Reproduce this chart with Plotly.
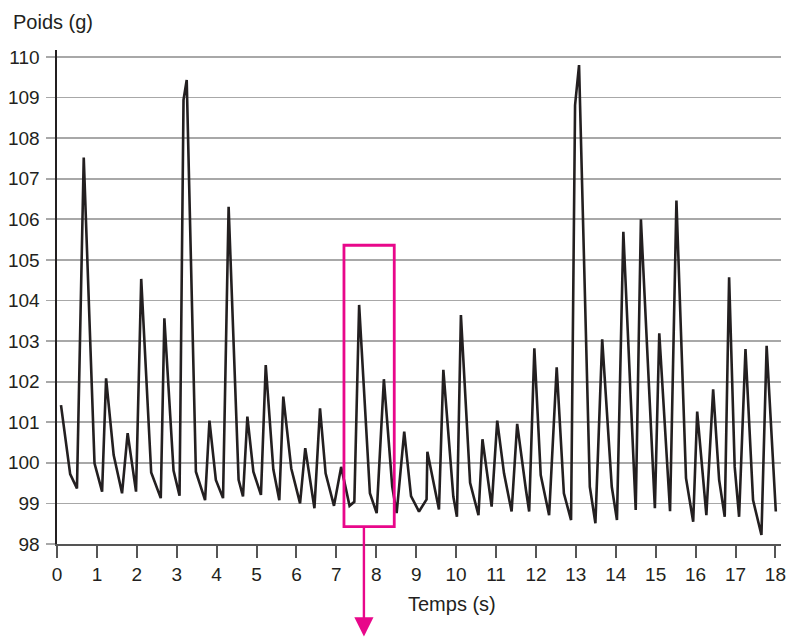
import plotly.graph_objects as go

# Data
temps = [0.10, 0.33, 0.50, 0.67, 0.94, 1.13, 1.23, 1.42, 1.63, 1.77,
         1.98, 2.11, 2.36, 2.60, 2.69, 2.92, 3.07, 3.17, 3.25, 3.48,
         3.71, 3.82, 3.98, 4.16, 4.30, 4.55, 4.66, 4.77, 4.92, 5.11,
         5.23, 5.42, 5.57, 5.67, 5.87, 6.09, 6.22, 6.45, 6.59, 6.73,
         6.94, 7.12, 7.33, 7.45, 7.57, 7.84, 8.01, 8.19, 8.40, 8.51,
         8.70, 8.87, 9.07, 9.26, 9.28, 9.57, 9.68, 9.93, 10.02, 10.12,
         10.35, 10.56, 10.66, 10.89, 11.03, 11.20, 11.39, 11.53, 11.75, 11.83,
         11.96, 12.12, 12.33, 12.52, 12.70, 12.88, 12.98, 13.08, 13.35, 13.49,
         13.66, 13.90, 14.03, 14.19, 14.50, 14.63, 14.98, 15.09, 15.36, 15.52,
         15.76, 15.94, 16.04, 16.27, 16.44, 16.59, 16.73, 16.84, 16.98, 17.09,
         17.25, 17.44, 17.65, 17.78, 18.01]
poids = [101.42, 99.72, 99.37, 107.52, 99.99, 99.29, 102.08, 100.19, 99.25, 100.73,
         99.29, 104.53, 99.76, 99.13, 103.56, 99.81, 99.19, 108.94, 109.43, 99.78,
         99.08, 101.04, 99.58, 99.13, 106.31, 99.58, 99.17, 101.14, 99.78, 99.21,
         102.41, 99.84, 99.08, 101.63, 99.86, 99.00, 100.36, 98.88, 101.34, 99.74,
         98.94, 99.90, 98.94, 99.04, 103.89, 99.25, 98.76, 102.06, 99.41, 98.76,
         100.77, 99.18, 98.80, 99.10, 100.27, 98.85, 102.29, 99.17, 98.67, 103.64,
         99.51, 98.71, 100.58, 98.92, 101.04, 99.74, 98.80, 100.96, 99.33, 98.80,
         102.82, 99.70, 98.71, 102.35, 99.25, 98.59, 108.81, 109.80, 99.41, 98.51,
         103.04, 99.41, 98.59, 105.69, 98.84, 106.00, 98.88, 103.19, 98.81, 106.46,
         99.62, 98.55, 101.26, 98.71, 101.81, 99.58, 98.67, 104.57, 99.90, 98.67,
         102.80, 99.08, 98.22, 102.88, 98.80]

x_ticks = list(range(0, 19))
y_ticks = list(range(98, 111))

# Highlight box (data coords) and arrow
box_x = [7.19, 8.45]
box_y = [98.43, 105.36]
arrow_x = 7.69
arrow_tail_y = 98.43
arrow_tip_y = 95.72

PINK = "#E8078A"
INK = "#231F20"
FONT = "Liberation Sans, Arial, Helvetica, sans-serif"

fig = go.Figure()
fig.add_trace(go.Scatter(
    x=temps, y=poids, mode="lines",
    line=dict(color=INK, width=2.6),
    cliponaxis=False, hoverinfo="skip", showlegend=False,
))

fig.add_shape(type="rect", xref="x", yref="y",
              x0=box_x[0], x1=box_x[1], y0=box_y[0], y1=box_y[1],
              line=dict(color=PINK, width=2.8), layer="above")

fig.add_annotation(x=arrow_x, y=arrow_tip_y, ax=arrow_x, ay=arrow_tail_y,
                   xref="x", yref="y", axref="x", ayref="y",
                   showarrow=True, arrowhead=2, arrowsize=1.6, arrowwidth=2.4,
                   arrowcolor=PINK, text="")

fig.add_annotation(text="Poids (g)", xref="paper", yref="paper",
                   x=-0.063, y=1.057, xanchor="left", yanchor="middle",
                   showarrow=False, font=dict(size=20, color=INK, family=FONT))
fig.add_annotation(text="Temps (s)", xref="paper", yref="paper",
                   x=0.545, y=-0.121, xanchor="center", yanchor="middle",
                   showarrow=False, font=dict(size=20, color=INK, family=FONT))

fig.update_layout(
    width=787, height=639,
    margin=dict(l=57, r=6, t=50, b=95, autoexpand=False),
    paper_bgcolor="white", plot_bgcolor="white",
    font=dict(family=FONT, size=19, color=INK),
    showlegend=False,
)
fig.update_xaxes(
    range=[0, 18.14], tickvals=x_ticks, ticktext=[str(v) for v in x_ticks],
    showgrid=False, zeroline=False, automargin=False,
    showline=True, linecolor="#555555", linewidth=2,
    ticks="outside", ticklen=12, tickwidth=2, tickcolor="#555555",
    tickfont=dict(size=19, color=INK, family=FONT),
)
fig.update_yaxes(
    range=[98, 110.17], tickvals=y_ticks, ticktext=[str(v) for v in y_ticks],
    showgrid=True, gridcolor="#A8A8A8", gridwidth=1.8, zeroline=False,
    automargin=False,
    showline=True, linecolor="#231F20", linewidth=1.6,
    ticks="outside", ticklen=9, tickwidth=1.8, tickcolor="#A8A8A8",
    tickfont=dict(size=19, color=INK, family=FONT),
    ticklabelstandoff=3,
)

# Remove the default page margin so the 787x639 figure fills the window exactly.
fig.write_html(
    "out.html",
    config={"displayModeBar": False, "staticPlot": True},
    post_script="document.body.style.margin='0';document.body.style.overflow='hidden';",
)
